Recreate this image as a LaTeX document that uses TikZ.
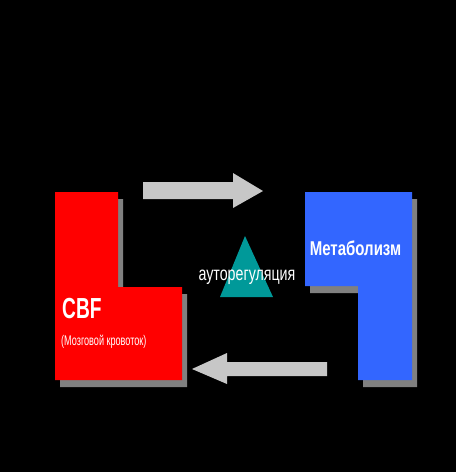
\documentclass[tikz,border=0pt]{standalone}
\usepackage{fontspec}
\setmainfont{Liberation Sans}[FakeStretch=0.75]
\newfontfamily\cbffont{Liberation Sans}[FakeStretch=0.66]
\newfontfamily\notefont{Liberation Sans}[FakeStretch=0.65]
\newfontfamily\autofont{Liberation Sans}[FakeStretch=0.73]
\tikzset{
  shadow/.style={fill=black!50},
  block arrow/.style={fill=black!22},
  label text/.style={text=white, inner sep=0pt}
}
\begin{document}
\begin{tikzpicture}[x=1pt,y=-1pt]
            % Background
            \fill[black] (0,0) rectangle (456,472);
            \useasboundingbox (0,0) rectangle (456,472);

            % CBF block with its shadow
            \fill[shadow, shift={(5,7)}] (55,192) -- (118,192) -- (118,287) -- (182,287) -- (182,380) -- (55,380) -- cycle;
            \fill[red] (55,192) -- (118,192) -- (118,287) -- (182,287) -- (182,380) -- (55,380) -- cycle;
            \node[label text, anchor=base west, font=\cbffont\bfseries\fontsize{29}{31}\selectfont] (cbf) at (62,318) {CBF};
            \node[label text, anchor=base west, font=\notefont\fontsize{14}{16}\selectfont] (cbfsub) at (61,345) {(Мозговой кровоток)};

            % Metabolism block with its shadow
            \fill[shadow, shift={(5,7)}] (305,192) -- (412,192) -- (412,380) -- (358,380) -- (358,286) -- (305,286) -- cycle;
            \fill[fill={rgb,255:red,51;green,102;blue,255}] (305,192) -- (412,192) -- (412,380) -- (358,380) -- (358,286) -- (305,286) -- cycle;
            \node[label text, anchor=base, font=\bfseries\fontsize{20}{22}\selectfont] (meta) at (355.5,255) {Метаболизм};

            % Arrow from CBF to metabolism
            \fill[block arrow] (143,182) -- (233,182) -- (233,173) -- (263,191) -- (233,208) -- (233,199) -- (143,199) -- cycle;

            % Arrow back to CBF
            \fill[block arrow] (327,362) -- (227,362) -- (227,353) -- (192,369) -- (227,384) -- (227,376) -- (327,376) -- cycle;

            % Autoregulation triangle
            \fill[fill={rgb,255:red,0;green,153;blue,153}] (245,236) -- (273,297) -- (220,297) -- cycle;
            \node[label text, anchor=base, font=\autofont\fontsize{19.5}{21}\selectfont] (auto) at (247,280) {ауторегуляция};
        \end{tikzpicture}
\end{document}
